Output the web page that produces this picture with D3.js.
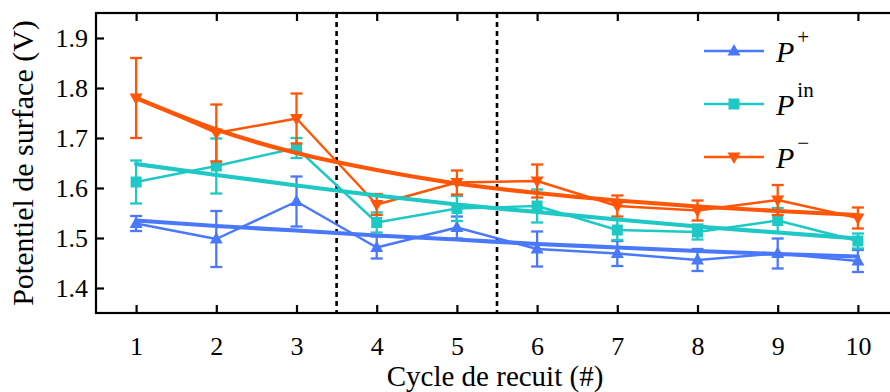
<!DOCTYPE html>
<html>
<head>
<meta charset="utf-8">
<script src="https://cdn.jsdelivr.net/npm/d3@7"></script>
<style>
  html, body { margin: 0; padding: 0; background: #fff; }
  svg { display: block; }
  text { font-family: "Liberation Serif", "Times New Roman", serif; fill: #000; }
</style>
</head>
<body>
<svg id="chart" width="890" height="392"></svg>
<script>
// Annealing cycles
const cycles = [1, 2, 3, 4, 5, 6, 7, 8, 9, 10];

// Measured surface potential (V) and error bars per series
const pPlus      = [1.529, 1.498, 1.573, 1.481, 1.521, 1.478, 1.469, 1.456, 1.469, 1.454];
const pPlusErr   = [0.015, 0.056, 0.050, 0.022, 0.022, 0.035, 0.025, 0.022, 0.030, 0.022];
const pIn        = [1.612, 1.644, 1.680, 1.531, 1.559, 1.564, 1.516, 1.512, 1.535, 1.494];
const pInErr     = [0.043, 0.055, 0.020, 0.020, 0.025, 0.033, 0.020, 0.015, 0.025, 0.015];
const pMinus     = [1.780, 1.710, 1.739, 1.567, 1.611, 1.614, 1.564, 1.555, 1.576, 1.540];
const pMinusErr  = [0.080, 0.057, 0.050, 0.021, 0.024, 0.033, 0.021, 0.020, 0.030, 0.021];

// Fitted trends evaluated at each cycle
const pPlusFit   = [1.535, 1.524, 1.515, 1.505, 1.497, 1.488, 1.481, 1.474, 1.468, 1.463];
const pInFit     = [1.648, 1.626, 1.605, 1.585, 1.567, 1.552, 1.537, 1.523, 1.511, 1.499];
const pMinusFit  = [1.780, 1.717, 1.670, 1.636, 1.609, 1.590, 1.575, 1.563, 1.554, 1.546];

// Phase boundaries (dashed separators)
const boundaries = [3.5, 5.5];

// Axis ticks
const xTicks = [1, 2, 3, 4, 5, 6, 7, 8, 9, 10];
const yTicks = [1.4, 1.5, 1.6, 1.7, 1.8, 1.9];

const seriesNames = ["+", "in", "\u2212"];

const colBlue = "#4a78fb", colCyan = "#1ec8c4", colOrange = "#ff5506";

const series = [
  { name: seriesNames[0], values: pPlus,  err: pPlusErr,  fit: pPlusFit,  color: colBlue,   marker: "up" },
  { name: seriesNames[1], values: pIn,    err: pInErr,    fit: pInFit,    color: colCyan,   marker: "square" },
  { name: seriesNames[2], values: pMinus, err: pMinusErr, fit: pMinusFit, color: colOrange, marker: "down" }
];

const svg = d3.select("#chart");
const mLeft = 96, mRight = 898, mTop = 13, mBottom = 313;

const x = d3.scaleLinear().domain([0.5, 10.5]).range([mLeft, mRight]);
const y = d3.scaleLinear().domain([1.35, 1.95]).range([mBottom, mTop]);

const defs = svg.append("defs");
defs.append("clipPath").attr("id", "plotclip")
  .append("rect").attr("x", mLeft).attr("y", mTop).attr("width", mRight - mLeft).attr("height", mBottom - mTop);

const plot = svg.append("g").attr("clip-path", "url(#plotclip)");

// Dashed separators
plot.selectAll("line.sep").data(boundaries).join("line")
  .attr("class", "sep")
  .attr("x1", d => x(d)).attr("x2", d => x(d))
  .attr("y1", mTop).attr("y2", mBottom)
  .attr("stroke", "#000").attr("stroke-width", 2.6)
  .attr("stroke-dasharray", "5,4");

function markerPath(type, cx, cy) {
  if (type === "up") {
    return `M${cx},${cy - 7}L${cx + 6.5},${cy + 4.5}L${cx - 6.5},${cy + 4.5}Z`;
  } else if (type === "down") {
    return `M${cx},${cy + 7}L${cx + 6.5},${cy - 4.5}L${cx - 6.5},${cy - 4.5}Z`;
  }
  return `M${cx - 5.5},${cy - 5.5}h11v11h-11Z`;
}

const line = d3.line().x((d, i) => x(cycles[i])).y(d => y(d));
const fitLine = d3.line().x((d, i) => x(cycles[i])).y(d => y(d)).curve(d3.curveMonotoneX);

series.forEach(s => {
  const g = plot.append("g");
  const pts = cycles.map((c, i) => ({ c, v: s.values[i], e: s.err[i] }));
  // error bars
  const eb = g.selectAll("g.eb").data(pts).join("g");
  eb.append("line")
    .attr("x1", d => x(d.c)).attr("x2", d => x(d.c))
    .attr("y1", d => y(d.v - d.e)).attr("y2", d => y(d.v + d.e))
    .attr("stroke", s.color).attr("stroke-width", 2.3);
  [-1, 1].forEach(sg => {
    eb.append("line")
      .attr("x1", d => x(d.c) - 6).attr("x2", d => x(d.c) + 6)
      .attr("y1", d => y(d.v + sg * d.e)).attr("y2", d => y(d.v + sg * d.e))
      .attr("stroke", s.color).attr("stroke-width", 2.3);
  });
  // data line
  g.append("path").attr("d", line(s.values))
    .attr("fill", "none").attr("stroke", s.color).attr("stroke-width", 2.4)
    .attr("stroke-linejoin", "round");
  // markers
  g.selectAll("path.m").data(pts).join("path")
    .attr("class", "m")
    .attr("d", d => markerPath(s.marker, x(d.c), y(d.v)))
    .attr("fill", s.color);
});

// fitted trends on top
series.forEach(s => {
  plot.append("path").attr("d", fitLine(s.fit))
    .attr("fill", "none").attr("stroke", s.color).attr("stroke-width", 4.2)
    .attr("stroke-linecap", "round").attr("stroke-linejoin", "round");
});

// Axes frame with inward ticks
svg.append("rect").attr("x", mLeft).attr("y", mTop)
  .attr("width", mRight - mLeft).attr("height", mBottom - mTop)
  .attr("fill", "none").attr("stroke", "#000").attr("stroke-width", 2.2);

const tickLen = 8;
const bottomAxis = d3.axisBottom(x).tickValues(xTicks).tickSize(-tickLen).tickPadding(34).tickFormat(d3.format("d"));
const topAxis = d3.axisTop(x).tickValues(xTicks).tickSize(-tickLen).tickFormat("");
const leftAxis = d3.axisLeft(y).tickValues(yTicks).tickSize(-tickLen).tickPadding(8).tickFormat(d3.format(".1f"));
const rightAxis = d3.axisRight(y).tickValues(yTicks).tickSize(-tickLen).tickFormat("");

function styleAxis(g) {
  g.select(".domain").remove();
  g.selectAll(".tick line").attr("stroke", "#000").attr("stroke-width", 2.2);
  g.selectAll(".tick text").attr("font-family", "Liberation Serif, serif").attr("font-size", 26).attr("fill", "#000");
}

svg.append("g").attr("transform", `translate(0,${mBottom})`).call(bottomAxis).call(styleAxis)
  .selectAll(".tick text").attr("dy", "0.3em");
svg.append("g").attr("transform", `translate(0,${mTop})`).call(topAxis).call(styleAxis);
svg.append("g").attr("transform", `translate(${mLeft},0)`).call(leftAxis).call(styleAxis)
  .selectAll(".tick text").attr("dy", "0.34em");
svg.append("g").attr("transform", `translate(${mRight},0)`).call(rightAxis).call(styleAxis);

// Axis titles
svg.append("text")
  .attr("x", 495).attr("y", 386)
  .attr("text-anchor", "middle").attr("font-size", 29)
  .text("Cycle de recuit (#)");

svg.append("text")
  .attr("transform", `translate(33,${(mTop + mBottom) / 2}) rotate(-90)`)
  .attr("text-anchor", "middle").attr("font-size", 30)
  .text("Potentiel de surface (V)");

// Legend
const legend = svg.append("g");
const legY = [51, 104, 157];
series.forEach((s, i) => {
  const gy = legY[i];
  legend.append("line").attr("x1", 704).attr("x2", 764).attr("y1", gy).attr("y2", gy)
    .attr("stroke", s.color).attr("stroke-width", 2.4);
  legend.append("path").attr("d", markerPath(s.marker, 734, gy)).attr("fill", s.color);
  const t = legend.append("text").attr("x", 776).attr("y", gy + 11).attr("font-size", 30);
  t.append("tspan").attr("font-style", "italic").text("P");
  t.append("tspan").attr("font-size", 21).attr("dx", 3).attr("dy", -18).text(s.name);
});
</script>
</body>
</html>
